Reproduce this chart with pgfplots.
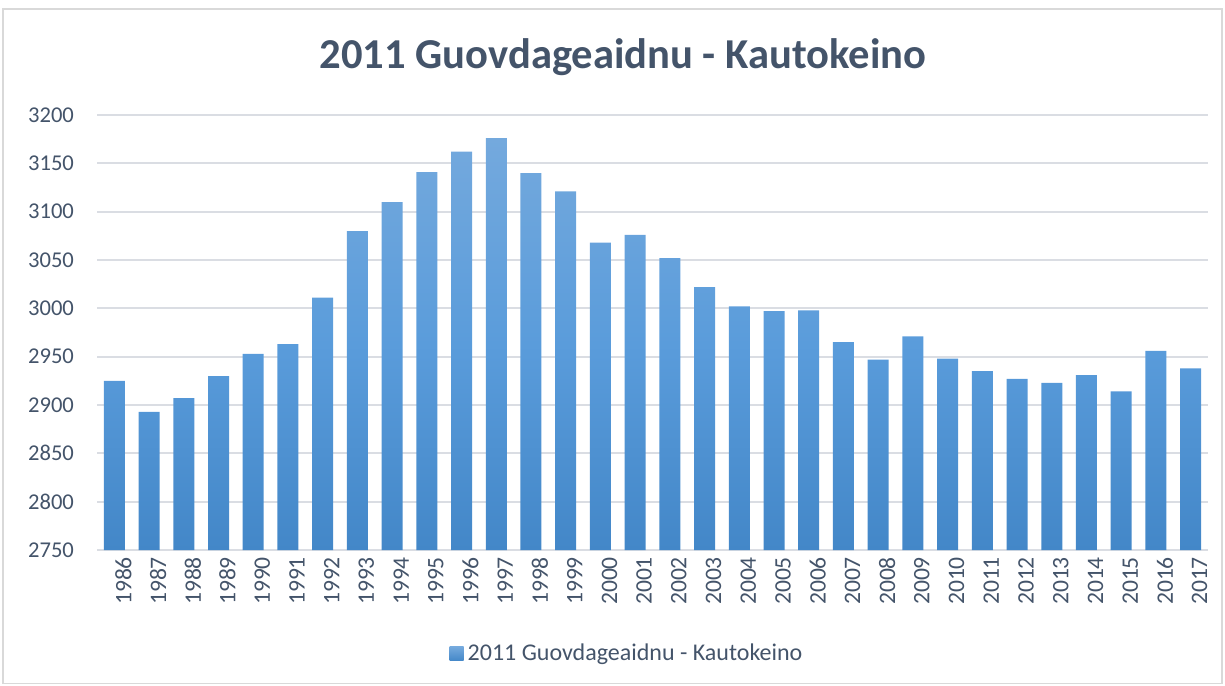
\documentclass[border=0pt]{standalone}
\usepackage{pgfplots}
\pgfplotsset{compat=1.18}
\usepackage{pgfplotstable}
\usepackage{fontspec}
\setmainfont{Carlito}
\definecolor{txt}{HTML}{44546A}
\definecolor{gridc}{HTML}{DADDE3}
\definecolor{frame}{HTML}{D9D9D9}
\definecolor{barTop}{HTML}{74A9DD}
\definecolor{barMid}{HTML}{5A9CDB}
\definecolor{barBot}{HTML}{4387C8}

% population by year
\pgfplotstableread{
year pop
1986 2925
1987 2893
1988 2907
1989 2930
1990 2953
1991 2963
1992 3011
1993 3080
1994 3110
1995 3141
1996 3162
1997 3176
1998 3140
1999 3121
2000 3068
2001 3076
2002 3052
2003 3022
2004 3002
2005 2997
2006 2998
2007 2965
2008 2947
2009 2971
2010 2948
2011 2935
2012 2927
2013 2923
2014 2931
2015 2914
2016 2956
2017 2938
}\poptable

\begin{document}
\begin{tikzpicture}
\path[use as bounding box] (0,0) rectangle (612.5pt,342.5pt);
\draw[frame, line width=0.6pt] (1.5pt,0.8pt) rectangle (611pt,338pt);
\node[txt, font=\fontsize{21.3}{25}\selectfont\bfseries] at (311.5pt,314pt) {2011 Guovdageaidnu - Kautokeino};
\begin{axis}[
    at={(48.5pt,67.5pt)}, anchor=south west,
    width=555.5pt, height=217.5pt, scale only axis,
    ymin=0, ymax=450, ytick={0,50,...,450},
    yticklabel={\pgfmathparse{int(\tick+2750)}\pgfmathresult},
    xmin=1985.5, xmax=2017.5, xtick=data,
    axis line style={draw=none},
    major tick length=0pt,
    ymajorgrids, grid style={gridc, line width=0.85pt},
    ybar, bar width=10.5pt,
    /pgf/number format/assume math mode=true,
    /pgf/number format/1000 sep={},
    ticklabel style={txt, font=\fontsize{11.3}{13}\selectfont},
    y tick label style={anchor=east, xshift=-8pt},
    x tick label style={rotate=90, anchor=east, yshift=-4.5pt, font=\fontsize{11.8}{13}\selectfont},
    legend style={draw=none, fill=none, at={(0.478,-0.239)}, anchor=center,
        font=\fontsize{12}{14}\selectfont, text=txt},
    legend image code/.code={\shade[top color=barTop, bottom color=barBot, draw=none] (0pt,-3.5pt) rectangle (7pt,3.5pt);},
]
\addplot[draw=none, top color=barTop, bottom color=barBot, middle color=barMid]
    table[x=year, y expr=\thisrow{pop}-2750] {\poptable};
\addlegendentry{2011 Guovdageaidnu - Kautokeino}
\end{axis}
\end{tikzpicture}
\end{document}
